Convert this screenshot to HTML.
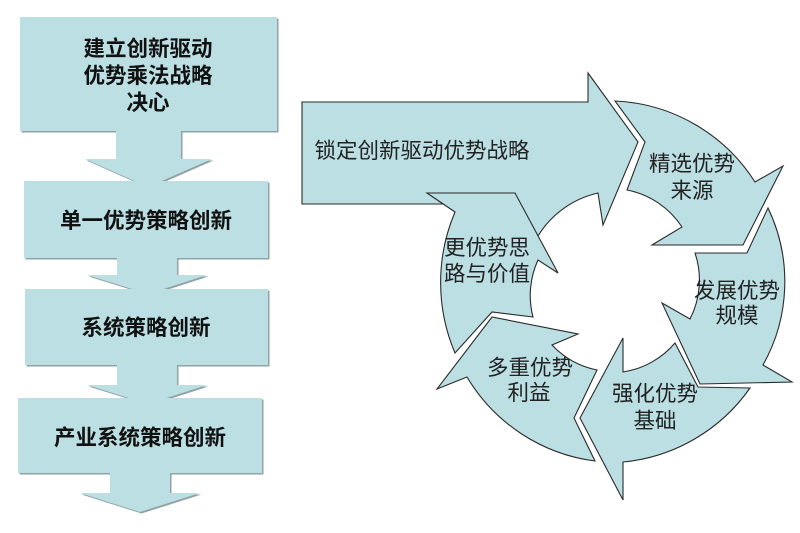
<!DOCTYPE html>
<html>
<head>
<meta charset="utf-8">
<style>
  html,body{margin:0;padding:0;background:#fff;}
  svg{display:block;}
  .lt{font-family:"Liberation Sans","Noto Sans CJK SC",sans-serif;font-size:21.5px;font-weight:bold;fill:#111;text-anchor:middle;}
  .rt{font-family:"Liberation Sans","Noto Sans CJK SC",sans-serif;font-size:21.5px;fill:#222;text-anchor:middle;}
</style>
</head>
<body>
<svg width="800" height="533" viewBox="0 0 800 533" xmlns="http://www.w3.org/2000/svg">
  <!-- LEFT COLUMN -->
  <g>
    <!-- box1 -->
    <rect x="21.5" y="18.5" width="257" height="114" fill="#8fa2a5"/>
    <rect x="20" y="17" width="257" height="114" fill="#bbdfe3"/>
    <!-- arrow1 -->
    <polygon points="117.5,132.5 182.5,132.5 182.5,160.5 213.5,160.5 149.5,188.5 86.5,160.5 117.5,160.5" fill="#8fa2a5"/>
    <polygon points="116,131 181,131 181,159 212,159 148,187 85,159 116,159" fill="#bbdfe3"/>
    <!-- box2 -->
    <rect x="25.5" y="182.5" width="244" height="77" fill="#8fa2a5"/>
    <rect x="24" y="181" width="244" height="77" fill="#bbdfe3"/>
    <!-- arrow2 -->
    <polygon points="118.5,259.5 178.5,259.5 178.5,276.5 208.5,276.5 149.5,295.5 88.5,276.5 118.5,276.5" fill="#8fa2a5"/>
    <polygon points="117,258 177,258 177,275 207,275 148,294 87,275 117,275" fill="#bbdfe3"/>
    <!-- box3 -->
    <rect x="26.5" y="290.5" width="243" height="76" fill="#8fa2a5"/>
    <rect x="25" y="289" width="243" height="76" fill="#bbdfe3"/>
    <!-- arrow3 -->
    <polygon points="118.5,366.5 178.5,366.5 178.5,386.5 208.5,386.5 149.5,405.5 88.5,386.5 118.5,386.5" fill="#8fa2a5"/>
    <polygon points="117,365 177,365 177,385 207,385 148,404 87,385 117,385" fill="#bbdfe3"/>
    <!-- box4 -->
    <rect x="19.5" y="399.5" width="244" height="75" fill="#8fa2a5"/>
    <rect x="18" y="398" width="244" height="75" fill="#bbdfe3"/>
    <!-- arrow4 -->
    <polygon points="111.5,474.5 171.5,474.5 171.5,494.5 201.5,494.5 141.5,513.5 81.5,494.5 111.5,494.5" fill="#8fa2a5"/>
    <polygon points="110,473 170,473 170,493 200,493 140,512 80,493 110,493" fill="#bbdfe3"/>

    <text class="lt" x="148" y="56">建立创新驱动</text>
    <text class="lt" x="148" y="83">优势乘法战略</text>
    <text class="lt" x="148" y="110">决心</text>
    <text class="lt" x="146" y="228">单一优势策略创新</text>
    <text class="lt" x="146" y="335">系统策略创新</text>
    <text class="lt" x="140" y="445">产业系统策略创新</text>
  </g>

  <!-- RIGHT DIAGRAM -->
  <g fill="#bbdfe3" stroke="#2a2a2a" stroke-width="1.1" stroke-linejoin="miter">
    <!-- big arrow -->
    <path d="M302,102 L588,102 L588,73 L638,142 L603,225 L598,193 A95,95 0 0 0 538,236 L520,250 L470,204 L302,204 Z"/>
    <!-- 更优势思路与价值 -->
    <path d="M455,353 A180,180 0 0 1 455,212 L427,193 L515,193 L558,273 L538,260 A85,85 0 0 0 533,317 L492,312 Z"/>
    <!-- 精选优势来源 -->
    <path d="M615,101 A175,175 0 0 1 755,182 L783,166 L743,245 L652,245 L682,227 A85,85 0 0 0 627,190 L645,142 Z"/>
    <!-- 发展优势规模 -->
    <path d="M768,208 A170,170 0 0 1 763,365 L792,382 L700,384 L662,303 L690,319 A85,85 0 0 0 695,253 L747,253 Z"/>
    <!-- 强化优势基础 -->
    <path d="M750,388 A175,175 0 0 1 623,462 L623,500 L580,418 L623,338 L623,372 A85,85 0 0 0 675,343 L698,387 Z"/>
    <!-- 多重优势利益 -->
    <path d="M595,461 A175,175 0 0 1 467,377 L437,389 L492,317 L578,334 L552,345 A85,85 0 0 0 597,370 L574,418 Z"/>
  </g>

  <g>
    <text class="rt" x="422" y="158">锁定创新驱动优势战略</text>
    <text class="rt" x="692" y="171">精选优势</text>
    <text class="rt" x="692" y="198">来源</text>
    <text class="rt" x="737" y="298">发展优势</text>
    <text class="rt" x="737" y="323">规模</text>
    <text class="rt" x="655" y="401">强化优势</text>
    <text class="rt" x="655" y="428">基础</text>
    <text class="rt" x="530" y="375">多重优势</text>
    <text class="rt" x="529" y="400">利益</text>
    <text class="rt" x="487" y="255">更优势思</text>
    <text class="rt" x="487" y="281">路与价值</text>
  </g>
</svg>
</body>
</html>
